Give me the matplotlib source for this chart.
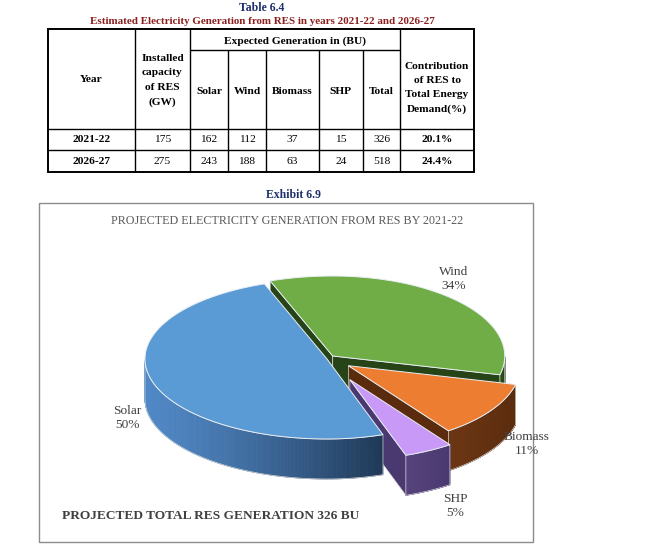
import numpy as np
import matplotlib.pyplot as plt
from matplotlib.patches import Polygon, Rectangle
from matplotlib.colors import to_rgb

plt.rcParams['font.family'] = ['Liberation Serif', 'DejaVu Serif']

# ---- data (Table 6.4) ----
years = ['2021-22', '2026-27']
capacity_gw = [175, 275]
sources = ['Solar', 'Wind', 'Biomass', 'SHP']
gen_2021 = [162, 112, 37, 15]
gen_2026 = [243, 188, 63, 24]
res_share = [20.1, 24.4]

# ---- pie style ----
top_colors = ['#5B9BD5', '#70AD47', '#ED7D31', '#C899F6']
side_light = ['#5088C6', '#2F5220', '#6B3614', '#56437C']
side_dark = ['#1F3856', '#274418', '#5A2C0D', '#4A3870']
explode = [0.0, 0.05, 0.15, 0.29]
label_pos = [(127, 418), (454, 279), (527, 444), (455, 506)]

navy = '#1F2F6B'
darkred = '#8B1E1E'

fig = plt.figure(figsize=(6.46, 5.52), dpi=100)
ax = fig.add_axes([0, 0, 1, 1])
ax.set_xlim(0, 646)
ax.set_ylim(552, 0)
ax.axis('off')

# ---------------- table ----------------
ax.text(262, 8, 'Table 6.4', ha='center', va='center', fontsize=8.5,
        fontweight='bold', color=navy)
ax.text(262, 22, 'Estimated Electricity Generation from RES in years 2021-22 and 2026-27',
        ha='center', va='center', fontsize=7.9, fontweight='bold', color=darkred)

xs = [48, 135, 190, 228, 266, 319, 363, 400, 474]
y0, y_sub, y_head, y_mid, y1 = 29, 50, 129, 150, 172

def line(xa, xb, ya, yb, lw=1.0):
    ax.plot([xa, xb], [ya, yb], color='black', lw=lw, solid_capstyle='butt')

ax.add_patch(Rectangle((xs[0], y0), xs[-1] - xs[0], y1 - y0, fill=False,
                       edgecolor='black', lw=1.4))
for x in [xs[1], xs[2], xs[7]]:
    line(x, x, y0, y1)
for x in xs[3:7]:
    line(x, x, y_sub, y1)
line(xs[2], xs[7], y_sub, y_sub)
line(xs[0], xs[-1], y_head, y_head)
line(xs[0], xs[-1], y_mid, y_mid)

fs = 8.2
tb = dict(ha='center', va='center', fontsize=fs, fontweight='bold', color='black')
tr = dict(ha='center', va='center', fontsize=fs, color='black')
ax.text((xs[0] + xs[1]) / 2, 80, 'Year', **tb)
ax.text((xs[1] + xs[2]) / 2, 80.5, 'Installed\ncapacity\nof RES\n(GW)', linespacing=1.75, **tb)
ax.text((xs[2] + xs[7]) / 2, 41, 'Expected Generation in (BU)', **tb)
for i, name in enumerate(sources + ['Total']):
    ax.text((xs[2 + i] + xs[3 + i]) / 2, 91, name, **tb)
ax.text((xs[7] + xs[8]) / 2, 88, 'Contribution\nof RES to\nTotal Energy\nDemand(%)',
        linespacing=1.7, **tb)

for r, (yr, cap, gen, share) in enumerate(zip(years, capacity_gw, [gen_2021, gen_2026], res_share)):
    yc = (y_head + y_mid) / 2 if r == 0 else (y_mid + y1) / 2
    ax.text((xs[0] + xs[1]) / 2, yc, yr, **tb)
    ax.text((xs[1] + xs[2]) / 2, yc, str(cap), **tr)
    for i, v in enumerate(gen + [sum(gen)]):
        ax.text((xs[2 + i] + xs[3 + i]) / 2, yc, str(v), **tr)
    ax.text((xs[7] + xs[8]) / 2, yc, f'{share:.1f}%', **tb)

# ---------------- exhibit ----------------
ax.text(293, 195, 'Exhibit 6.9', ha='center', va='center', fontsize=8.5,
        fontweight='bold', color=navy)
ax.add_patch(Rectangle((39, 203), 494, 339, fill=False, edgecolor='#8C8C8C', lw=1.0))
ax.text(287, 221, 'PROJECTED ELECTRICITY GENERATION FROM RES BY 2021-22',
        ha='center', va='center', fontsize=8.7, color='#595959')
ax.text(62, 516, 'PROJECTED TOTAL RES GENERATION 326 BU', ha='left', va='center',
        fontsize=9.6, fontweight='bold', color='#404040')

# 3d pie (left / right half radii differ a little, as in the source)
cx, cy, rx_l, rx_r, ry, depth = 327, 359, 182, 172, 80, 40
vals = np.array(gen_2021, dtype=float)
fracs = vals / vals.sum()
start = -71.0
b_ang = start - np.r_[0, np.cumsum(fracs)[:-1]] * 360   # ccw end of slice
a_ang = b_ang - fracs * 360                              # ccw start of slice


def pt(theta, off, r=1.0, z=0.0):
    t = np.radians(theta)
    c = np.cos(t)
    rx = rx_l if c < 0 else rx_r
    return (cx + off[0] + r * rx * c, cy + off[1] - r * ry * np.sin(t) + z)


def mix(c1, c2, t):
    c1, c2 = np.array(to_rgb(c1)), np.array(to_rgb(c2))
    return tuple(c1 + (c2 - c1) * t)


offs = []
for a, b, e in zip(a_ang, b_ang, explode):
    m = np.radians((a + b) / 2)
    offs.append((e * rx_r * np.cos(m), -e * ry * np.sin(m)))

z = 2
# radial faces
faces = []
for i, (a, b) in enumerate(zip(a_ang, b_ang)):
    off = offs[i]
    for t, n in [(a, a - 90), (b, b + 90)]:
        if np.sin(np.radians(n)) < -0.01:
            p0 = pt(0, off, r=0)
            p1 = pt(t, off)
            quad = [p0, p1, (p1[0], p1[1] + depth), (p0[0], p0[1] + depth)]
            faces.append(((p0[1] + p1[1]) / 2, quad, side_dark[i]))
for _, quad, col in sorted(faces, key=lambda f: f[0]):
    ax.add_patch(Polygon(quad, closed=True, facecolor=col, edgecolor='#D9D9D9',
                         lw=0.5, zorder=z))
    z += 1

# outer walls
walls = []
for i, (a, b) in enumerate(zip(a_ang, b_ang)):
    th = np.linspace(a, b, 240)
    front = th[np.sin(np.radians(th)) < 0]
    if len(front) < 2:
        continue
    m = np.radians(front.mean())
    walls.append((offs[i][1] - ry * np.sin(m), i, front))
for _, i, front in sorted(walls, key=lambda w: w[0]):
    off = offs[i]
    top = [pt(t, off) for t in front]
    xmin = min(p[0] for p in top)
    xmax = max(p[0] for p in top)
    for k in range(len(front) - 1):
        p, q = top[k], top[k + 1]
        tt = ((p[0] + q[0]) / 2 - xmin) / max(xmax - xmin, 1)
        col = mix(side_light[i], side_dark[i], tt ** 1.3)
        ax.add_patch(Polygon([p, q, (q[0], q[1] + depth), (p[0], p[1] + depth)],
                             closed=True, facecolor=col, edgecolor=col, lw=0.6, zorder=z))
    z += 1
    outline = top + [(p[0], p[1] + depth) for p in top[::-1]]
    ax.add_patch(Polygon(outline, closed=True, fill=False, edgecolor='#D9D9D9',
                         lw=0.5, zorder=z))
    z += 1

# top faces
for i, (a, b) in enumerate(zip(a_ang, b_ang)):
    off = offs[i]
    th = np.linspace(a, b, 200)
    poly = [pt(0, off, r=0)] + [pt(t, off) for t in th]
    ax.add_patch(Polygon(poly, closed=True, facecolor=top_colors[i],
                         edgecolor='#E8EEF4', lw=0.7, zorder=z))
z += 1

for i, name in enumerate(sources):
    ax.text(label_pos[i][0], label_pos[i][1], f'{name}\n{round(fracs[i] * 100)}%',
            ha='center', va='center', fontsize=9.6, color='#404040',
            linespacing=1.2, zorder=z)

fig.savefig('out.png', dpi=100)
